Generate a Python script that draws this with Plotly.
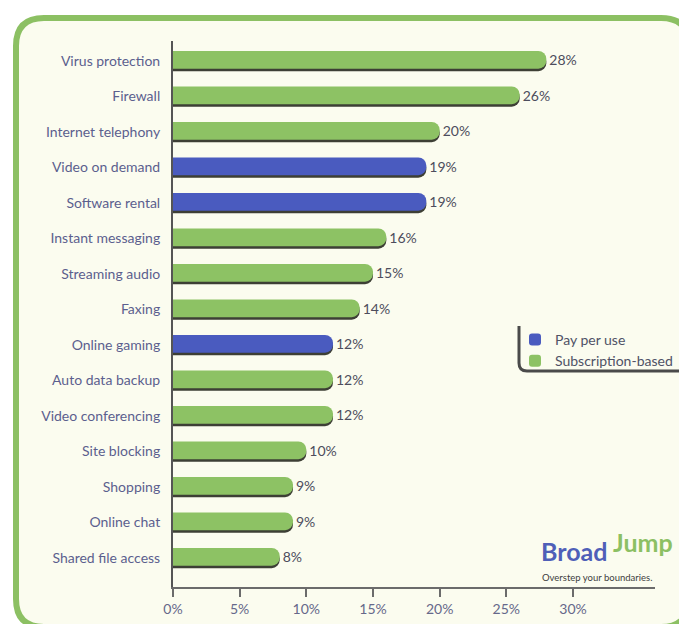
import plotly.graph_objects as go

# ---- data ----
categories = ["Virus protection", "Firewall", "Internet telephony", "Video on demand",
              "Software rental", "Instant messaging", "Streaming audio", "Faxing",
              "Online gaming", "Auto data backup", "Video conferencing", "Site blocking",
              "Shopping", "Online chat", "Shared file access"]
values = [28, 26, 20, 19, 19, 16, 15, 14, 12, 12, 12, 10, 9, 9, 8]
pricing = ["Subscription-based", "Subscription-based", "Subscription-based", "Pay per use",
           "Pay per use", "Subscription-based", "Subscription-based", "Subscription-based",
           "Pay per use", "Subscription-based", "Subscription-based", "Subscription-based",
           "Subscription-based", "Subscription-based", "Subscription-based"]
series_names = ["Pay per use", "Subscription-based"]
tick_values = [0, 5, 10, 15, 20, 25, 30]
tick_labels = ["0%", "5%", "10%", "15%", "20%", "25%", "30%"]

# ---- styling ----
W, H = 687, 624
L, R, T, B = 165, 40, 33, 45
PW, PH = W - L - R, H - T - B
GREEN = "#8dc264"
BLUE = "#4a5bbf"
colors = {"Pay per use": BLUE, "Subscription-based": GREEN}
LABEL = "#5b5f8e"
FONT = "Lato, 'Open Sans', sans-serif"


def px(x):
    return (x - L) / PW


def py(y):
    return (H - B - y) / PH


def rrect(x0, y0, x1, y1, r):
    return (f"M {px(x0 + r)} {py(y0)} L {px(x1 - r)} {py(y0)} Q {px(x1)} {py(y0)} {px(x1)} {py(y0 + r)} "
            f"L {px(x1)} {py(y1 - r)} Q {px(x1)} {py(y1)} {px(x1 - r)} {py(y1)} "
            f"L {px(x0 + r)} {py(y1)} Q {px(x0)} {py(y1)} {px(x0)} {py(y1 - r)} "
            f"L {px(x0)} {py(y0 + r)} Q {px(x0)} {py(y0)} {px(x0 + r)} {py(y0)} Z")


fig = go.Figure()

# shadow bars
fig.add_trace(go.Bar(
    y=categories, x=values, orientation="h", width=0.5, offset=-0.21,
    marker=dict(color="#3d3f35", cornerradius="50%", line=dict(width=0)),
    showlegend=False, hoverinfo="skip"))

for name in series_names:
    ys = [c for c, p in zip(categories, pricing) if p == name]
    xs = [v for v, p in zip(values, pricing) if p == name]
    fig.add_trace(go.Bar(
        y=ys, x=xs, orientation="h", name=name, width=0.5, offset=-0.28,
        marker=dict(color=colors[name], cornerradius="50%", line=dict(width=0)),
        text=[f"{v}%" for v in xs], textposition="outside",
        outsidetextfont=dict(family=FONT, size=14, color="#4d4d5c"),
        cliponaxis=False))

fig.update_layout(
    width=W, height=H, barmode="overlay",
    margin=dict(l=L, r=R, t=T, b=B),
    paper_bgcolor="white", plot_bgcolor="rgba(0,0,0,0)",
    font=dict(family=FONT, size=14, color=LABEL),
    xaxis=dict(range=[0, 36.15], tickvals=tick_values, ticktext=tick_labels,
               showgrid=False, zeroline=False, showline=True, linecolor="#6b6b6b",
               linewidth=2, ticks="outside", ticklen=8, tickcolor="#6b6b6b", tickwidth=1.5,
               tickfont=dict(size=14, color="#66688a"), fixedrange=True),
    yaxis=dict(type="category", range=[14.82, -0.56], showgrid=False, zeroline=False,
               showline=True, linecolor="#555555", linewidth=2, ticks="",
               ticklabelstandoff=8, tickfont=dict(size=14, color=LABEL)),
    legend=dict(x=px(507), y=py(316), xanchor="left", yanchor="top",
                bgcolor="rgba(0,0,0,0)", borderwidth=0,
                font=dict(family=FONT, size=14, color="#4f5266"),
                traceorder="normal", itemwidth=30, tracegroupgap=0),
    showlegend=True,
)

shapes = [
    # frame
    dict(type="path", xref="paper", yref="paper", path=rrect(8, 10, 681, 619, 28),
         fillcolor="#fbfcef", line=dict(color="#8cc063", width=6), layer="below"),
    # legend shadow border
    dict(type="path", xref="paper", yref="paper",
         path=(f"M {px(511)} {py(318)} L {px(511)} {py(355)} Q {px(511)} {py(363)} {px(519)} {py(363)} "
               f"L {px(672)} {py(363)}"),
         line=dict(color="#4a4a4a", width=3), layer="above"),
]

annotations = [
    dict(text="<b>Broad</b>", x=px(601), y=py(543), xref="paper", yref="paper",
         xanchor="right", yanchor="middle",
         showarrow=False, font=dict(family=FONT, size=25, color="#4f5fb8")),
    dict(text="<b>Jump</b>", x=px(603), y=py(534), xref="paper", yref="paper",
         xanchor="left", yanchor="middle",
         showarrow=False, font=dict(family=FONT, size=25, color="#8cc063")),
    dict(text="Overstep your boundaries.", x=px(589), y=py(569), xref="paper", yref="paper",
         xanchor="center", yanchor="middle",
         showarrow=False, font=dict(family=FONT, size=9.5, color="#3e3e3e")),
]

fig.update_layout(shapes=shapes, annotations=annotations)

fig.write_html("out.html")
